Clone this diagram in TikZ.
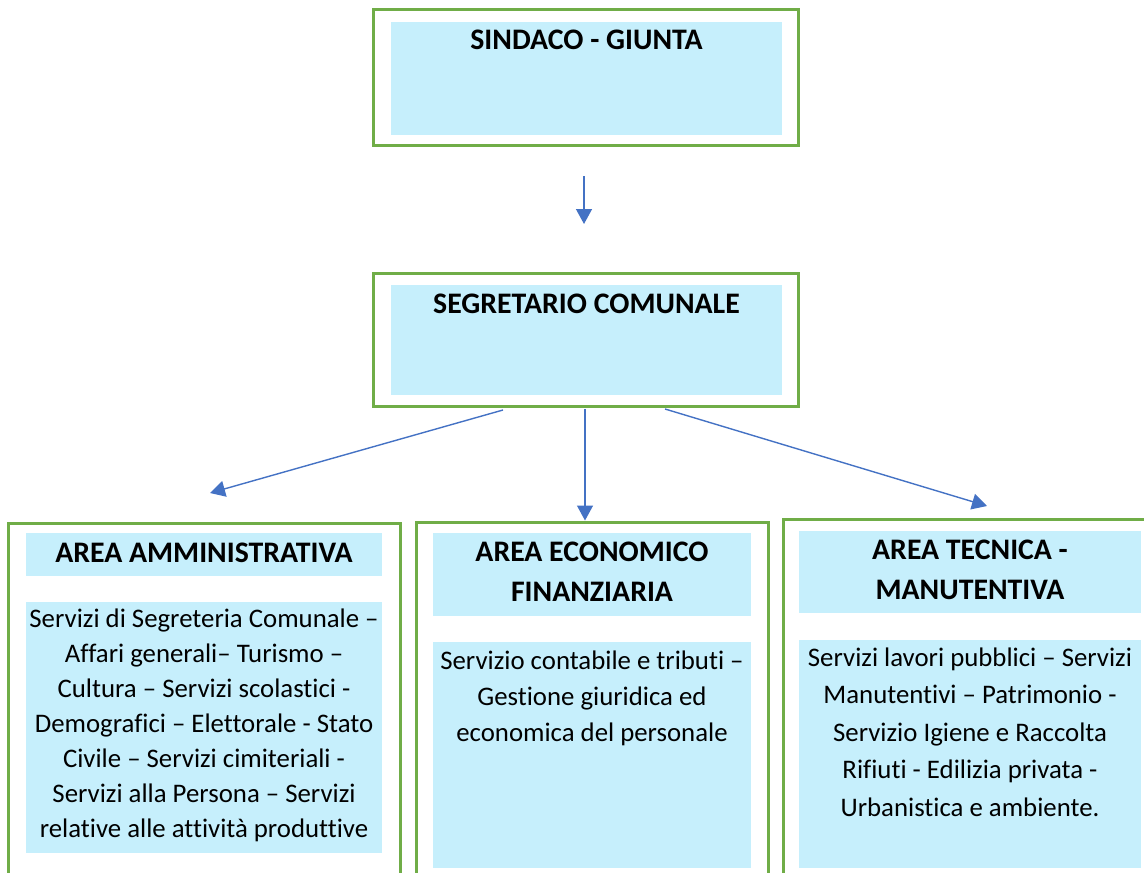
\documentclass[tikz,border=0pt]{standalone}
\usepackage{fontspec}
\setmainfont{Carlito}[Ligatures=NoCommon]
\usetikzlibrary{arrows.meta}
\usetikzlibrary{positioning}
\definecolor{verde}{HTML}{70AD47}
\definecolor{celeste}{HTML}{C6EFFC}
\definecolor{blu}{HTML}{4472C4}
\tikzset{
  cornice/.style={draw=verde,line width=1.5pt,inner sep=0pt},
  fondo/.style={fill=celeste,inner sep=0pt},
  titolo/.style={font=\fontsize{14.9}{20}\selectfont\bfseries,align=center,inner sep=0pt},
  testo/.style={font=\fontsize{13.4}{18}\selectfont,align=center,inner sep=0pt}
}

\begin{document}
\begin{tikzpicture}[x=0.5pt,y=-0.5pt,
        >={Triangle[width=8pt,length=7.5pt]},
        freccia/.style={->,draw=blu,line width=0.7pt}
      ]
        \clip (0,0) rectangle (1144,872);
        % vertice
        \node [cornice,minimum width=212.5pt,minimum height=67.5pt] (sindacobox) at (585.5,77.5) {};
        \node [fondo,minimum width=195.5pt,minimum height=56.5pt] (sindaco) at (586.5,78.5) {};
        \node [titolo,anchor=base] (sindacot) at (586.5,50) {SINDACO - GIUNTA};
        \node [cornice,minimum width=212.5pt,minimum height=66.5pt] (segretariobox) at (585.5,339.5) {};
        \node [fondo,minimum width=195.5pt,minimum height=55pt] (segretario) at (586.5,340) {};
        \node [titolo,anchor=base] (segretariot) at (586.5,313) {SEGRETARIO COMUNALE};
        % aree (anchor=base = ultima riga)
        \node [cornice,minimum width=196pt,minimum height=181pt] (ammbox) at (204,704) {};
        \node [fondo,minimum width=178pt,minimum height=21.5pt] (ammtit) at (204,554.5) {};
        \node [fondo,minimum width=178pt,minimum height=125.5pt] (ammcorpo) at (204,727.5) {};
        \node [titolo,anchor=base] (ammtitt) at (204,562) {AREA AMMINISTRATIVA};
        \node [testo,anchor=base,font=\fontsize{13.4}{17.5}\selectfont] (ammcorpot) at (204,837)
          {Servizi di Segreteria Comunale --\\ Affari generali-- Turismo --\\ Cultura -- Servizi scolastici -\\
           Demografici -- Elettorale - Stato\\ Civile -- Servizi cimiteriali -\\ Servizi alla Persona -- Servizi\\
           relative alle attività produttive};
        \node [cornice,minimum width=176pt,minimum height=181.5pt] (ecobox) at (592,703.5) {};
        \node [fondo,minimum width=159pt,minimum height=41.5pt] (ecotit) at (592,574.5) {};
        \node [fondo,minimum width=159pt,minimum height=113pt] (ecocorpo) at (592,755) {};
        \node [titolo,anchor=base] (ecotitt) at (592,601) {AREA ECONOMICO\\ FINANZIARIA};
        \node [testo,anchor=base] (ecocorpot) at (592,741)
          {Servizio contabile e tributi --\\ Gestione giuridica ed\\ economica del personale};
        \node [cornice,minimum width=188.5pt,minimum height=183pt] (tecbox) at (971.5,702) {};
        \node [fondo,minimum width=171pt,minimum height=41pt] (tectit) at (970,572) {};
        \node [fondo,minimum width=171pt,minimum height=114pt] (teccorpo) at (970,754) {};
        \node [titolo,anchor=base] (tectitt) at (970,599) {AREA TECNICA -\\ MANUTENTIVA};
        \node [testo,anchor=base,font=\fontsize{13.4}{18.75}\selectfont] (teccorpot) at (970,816)
          {Servizi lavori pubblici -- Servizi\\ Manutentivi -- Patrimonio -\\ Servizio Igiene e Raccolta\\
           Rifiuti - Edilizia privata -\\ Urbanistica e ambiente.};
        % frecce
        \coordinate (da1) at (584,176);
        \coordinate (a1) at (584,224);
        \coordinate (da2) at (503,410);
        \coordinate (a2) at (210,493);
        \coordinate (da3) at (585,409);
        \coordinate (da4) at (665,409);
        \coordinate (a4) at (987,506);
        \draw [freccia] (da1) -- (a1);
        \draw [freccia] (da2) -- (a2);
        \draw [freccia] (da3) -- (da3 |- ecobox.north);
        \draw [freccia] (da4) -- (a4);
      \end{tikzpicture}
\end{document}
